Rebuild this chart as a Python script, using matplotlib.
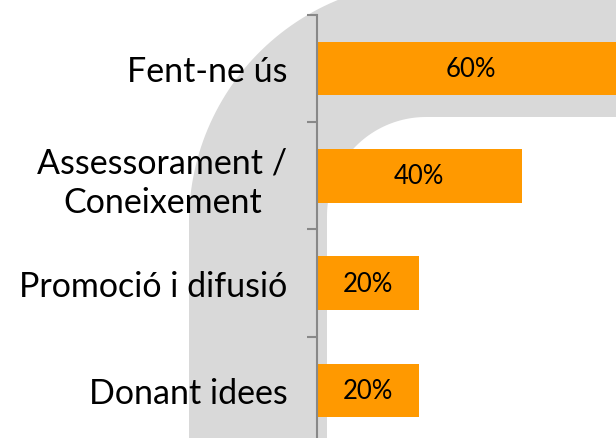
import numpy as np
import matplotlib
matplotlib.use("Agg")
import matplotlib.pyplot as plt
from matplotlib.path import Path
from matplotlib.patches import PathPatch

categories = ["Fent-ne ús", "Assessorament /\nConeixement", "Promoció i difusió", "Donant idees"]
values = [60, 40, 20, 20]
value_labels = ["60%", "40%", "20%", "20%"]

W, H = 616, 439
fig = plt.figure(figsize=(W / 100, H / 100), dpi=100)

# background decorative shape (pixel coordinates)
bg = fig.add_axes([0, 0, 1, 1], zorder=0)
bg.set_xlim(0, W)
bg.set_ylim(H, 0)
bg.axis("off")
left_o, top_o, R_o = 189, -17, 240
left_i, top_i, R_i = 327, 118, 99
pts = [(left_o, H + 20), (left_o, top_o + R_o)]
t = np.linspace(np.pi, 1.5 * np.pi, 60)
cx, cy = left_o + R_o, top_o + R_o
pts += list(zip(cx + R_o * np.cos(t), cy + R_o * np.sin(t)))
pts += [(W + 30, top_o), (W + 30, top_i), (left_i + R_i, top_i)]
t2 = np.linspace(1.5 * np.pi, np.pi, 60)
cx2, cy2 = left_i + R_i, top_i + R_i
pts += list(zip(cx2 + R_i * np.cos(t2), cy2 + R_i * np.sin(t2)))
pts += [(left_i, H + 20)]
codes = [Path.MOVETO] + [Path.LINETO] * (len(pts) - 1)
pts.append(pts[0]); codes.append(Path.CLOSEPOLY)
bg.add_patch(PathPatch(Path(pts, codes), facecolor="#d9d9d9", edgecolor="none"))

ax_left, ax_right = 316.7, 624.5
ax_top, ax_bot = 15.7, 445.0
ax = fig.add_axes([ax_left / W, 1 - ax_bot / H, (ax_right - ax_left) / W, (ax_bot - ax_top) / H], zorder=1)
ax.patch.set_visible(False)

y = np.arange(len(categories))
ax.barh(y, values, height=0.5, color="#FF9900")
ax.set_xlim(0, 60)
ax.set_ylim(len(categories) - 0.5, -0.5)

for yi, v, lab in zip(y, values, value_labels):
    ax.text(v / 2, yi, lab, ha="center", va="center", fontsize=18.5, family="Lato", color="#000000")

for s in ["top", "right", "bottom"]:
    ax.spines[s].set_visible(False)
ax.spines["left"].set_color("#888888")
ax.spines["left"].set_linewidth(1.5)
ax.set_xticks([])
ax.set_yticks(y)
ax.set_yticklabels(categories, fontsize=24.5, family="Lato", multialignment="center", linespacing=1.3)
ax.tick_params(axis="y", which="major", length=0, pad=21)
ax.set_yticks(np.arange(-0.5, len(categories), 1.0), minor=True)
ax.tick_params(axis="y", which="minor", length=7.2, width=1.5, color="#888888")

fig.savefig("out.png", dpi=100)
